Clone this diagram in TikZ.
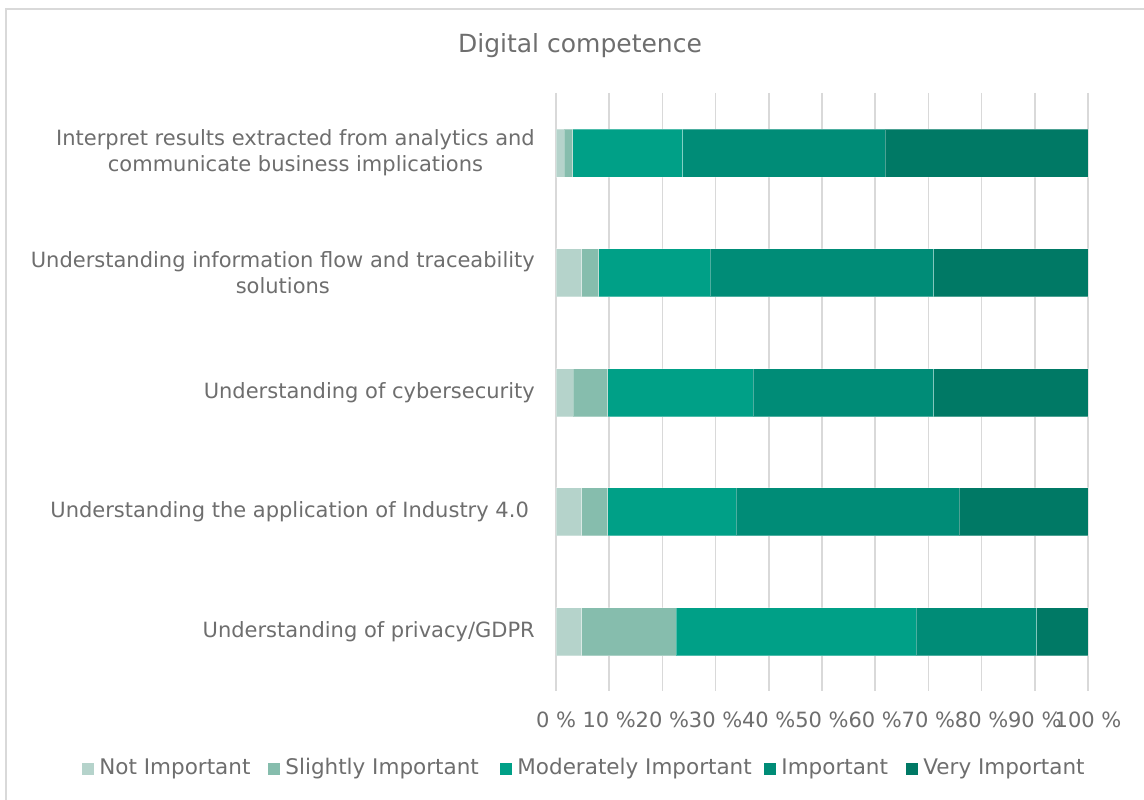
\documentclass[tikz,border=0pt]{standalone}
\usepackage{fontspec}
\setmainfont{DejaVu Sans}
\usetikzlibrary{positioning}
\definecolor{txtgray}{HTML}{6E6E6E}
\definecolor{gridgray}{HTML}{D9D9D9}
\definecolor{notimp}{HTML}{B5D3CB}
\definecolor{slightimp}{HTML}{86BDAD}
\definecolor{modimp}{HTML}{00A087}
\definecolor{imp}{HTML}{008C77}
\definecolor{veryimp}{HTML}{007965}

\begin{document}
\begin{tikzpicture}[x=1pt,y=-1pt]
        \tikzstyle{lbl}=[text=txtgray, font=\fontsize{21}{26}\selectfont, inner sep=0pt]
        \tikzstyle{seg}=[draw=white, draw opacity=0.3, line width=0.8pt]
        \tikzstyle{gridline}=[draw=gridgray, line width=1.5pt]
        \tikzstyle{key}=[rectangle, minimum size=12pt, inner sep=0pt]
        \useasboundingbox (0,0) rectangle (1144,800);
        \fill[white] (0,0) rectangle (1144,800);
        \draw[gridgray, line width=1.2pt] (6,800) -- (6,9) -- (1144,9);
        \node[lbl, font=\fontsize{25}{30}\selectfont] (title) at (580,46) {Digital competence};
        % value axis
        \foreach \k in {0, ..., 10}
        {
          \pgfmathsetmacro{\gx}{556 + 53.2*\k};
          \pgfmathtruncatemacro{\pc}{10*\k};
          \draw[gridline] (\gx,93) -- (\gx,691);
          \node[lbl] (tick\k) at (\gx,720) {\pc~\%};
        }
        % stacked bars, cumulative shares
        \foreach \row/\yc/\a/\b/\c/\d in {1/153/1.59/3.17/23.81/61.90,
                                          2/272.5/4.84/8.06/29.03/70.97,
                                          3/392.5/3.23/9.68/37.10/70.97,
                                          4/511.5/4.84/9.68/33.87/75.81,
                                          5/631.5/4.84/22.58/67.74/90.32}
        {
          \pgfmathsetmacro{\xa}{556 + 5.32*\a};
          \pgfmathsetmacro{\xb}{556 + 5.32*\b};
          \pgfmathsetmacro{\xc}{556 + 5.32*\c};
          \pgfmathsetmacro{\xd}{556 + 5.32*\d};
          \path[seg, fill=notimp] (556,\yc-24) rectangle (\xa,\yc+24);
          \path[seg, fill=slightimp] (\xa,\yc-24) rectangle (\xb,\yc+24);
          \path[seg, fill=modimp] (\xb,\yc-24) rectangle (\xc,\yc+24);
          \path[seg, fill=imp] (\xc,\yc-24) rectangle (\xd,\yc+24);
          \path[seg, fill=veryimp] (\xd,\yc-24) rectangle (1088,\yc+24);
        }
        % categories
        \node[lbl, anchor=east, align=center] (cat1) at (535,153) {Interpret results extracted from analytics and\\communicate business implications};
        \node[lbl, anchor=east, align=center] (cat2) at (535,272.5) {Understanding information flow and traceability\\solutions};
        \node[lbl, anchor=east] (cat3) at (535,392.5) {Understanding of cybersecurity};
        \node[lbl, anchor=east] (cat4) at (529,511.5) {Understanding the application of Industry 4.0};
        \node[lbl, anchor=east] (cat5) at (535,631.5) {Understanding of privacy/GDPR};
        % legend
        \tikzstyle{legtext}=[lbl, font=\fontsize{21.5}{26}\selectfont]
        \node[key, fill=notimp] (key1) at (88,769) {};
        \node[legtext, right=5pt of key1] (leg1) {Not Important};
        \node[key, fill=slightimp] (key2) at (274,769) {};
        \node[legtext, right=5pt of key2] (leg2) {Slightly Important};
        \node[key, fill=modimp] (key3) at (506,769) {};
        \node[legtext, right=5pt of key3] (leg3) {Moderately Important};
        \node[key, fill=imp] (key4) at (770,769) {};
        \node[legtext, right=5pt of key4] (leg4) {Important};
        \node[key, fill=veryimp] (key5) at (912,769) {};
        \node[legtext, right=5pt of key5] (leg5) {Very Important};
\end{tikzpicture}
\end{document}
